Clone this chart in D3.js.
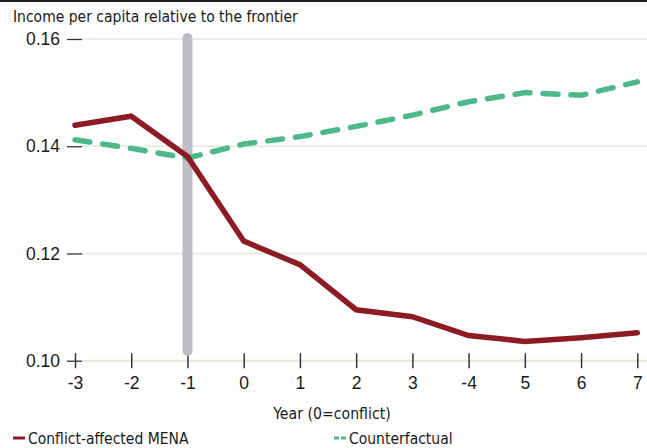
<!DOCTYPE html>
<html>
<head>
<meta charset="utf-8">
<script src="https://cdn.jsdelivr.net/npm/d3@7"></script>
<style>
  body { margin: 0; background: #fff; }
  svg { display: block; }
  .cond { font-family: "Liberation Sans Narrow", "DejaVu Sans Condensed", "Roboto", sans-serif; fill: #1a1a1a; }
  .num { font-family: "Liberation Sans", Arial, sans-serif; fill: #1a1a1a; }
</style>
</head>
<body>
<div id="chart"></div>
<script>
const WIDTH = 647;
const HEIGHT = 448;

// year labels as printed on the chart (the "-4" is in the original)
const years = ["-3", "-2", "-1", "0", "1", "2", "3", "-4", "5", "6", "7"];
const menaValues = [0.1439, 0.1456, 0.1381, 0.1223, 0.1179, 0.1095, 0.1082, 0.1047, 0.1036, 0.1043, 0.1052];
const counterfactualValues = [0.1412, 0.1396, 0.1378, 0.1404, 0.1418, 0.1437, 0.1458, 0.1483, 0.1500, 0.1495, 0.1520];
const yTicks = [0.10, 0.12, 0.14, 0.16];
const conflictYear = "-1";

const RED = "#8c1b24";
const GREEN = "#4fb78c";
const GRID = "#e2e9da";

const svg = d3.select("#chart")
  .append("svg")
  .attr("width", WIDTH)
  .attr("height", HEIGHT);

const x = d3.scalePoint()
  .domain(years)
  .range([75, 637.3]);

const y = d3.scaleLinear()
  .domain([0.10, 0.16])
  .range([360.7, 39]);

// top rule
svg.append("line")
  .attr("x1", 0).attr("x2", WIDTH)
  .attr("y1", 1).attr("y2", 1)
  .attr("stroke", "#222")
  .attr("stroke-width", 2);

// title
svg.append("text")
  .attr("class", "cond")
  .attr("x", 13)
  .attr("y", 22)
  .attr("font-size", 15.5)
  .text("Income per capita relative to the frontier");

// gridlines
svg.append("g")
  .selectAll("line")
  .data(yTicks)
  .enter()
  .append("line")
  .attr("x1", 82).attr("x2", WIDTH)
  .attr("y1", d => y(d)).attr("y2", d => y(d))
  .attr("stroke", GRID)
  .attr("stroke-width", d => d === 0.10 ? 2 : 1.5);

// y axis: dashes + labels
const yAxis = d3.axisLeft(y)
  .tickValues(yTicks)
  .tickFormat(d3.format(".2f"))
  .tickSize(15)
  .tickPadding(7);

const yg = svg.append("g")
  .attr("transform", "translate(82,0)")
  .call(yAxis);
yg.select(".domain").remove();
yg.selectAll(".tick line").attr("stroke", "#333").attr("stroke-width", 1.3);
yg.selectAll(".tick text")
  .attr("class", "num")
  .attr("font-size", 17.5)
  .attr("font-family", null)
  .attr("fill", "#1a1a1a");

// x axis: ticks crossing the baseline
const xAxis = d3.axisBottom(x)
  .tickSizeInner(8)
  .tickSizeOuter(0)
  .tickPadding(8);

const xg = svg.append("g")
  .attr("transform", `translate(0,${y(0.10)})`)
  .call(xAxis);
xg.select(".domain").remove();
xg.selectAll(".tick line")
  .attr("y1", -7.5)
  .attr("y2", 7.5)
  .attr("stroke", "#333")
  .attr("stroke-width", 1.5);
xg.selectAll(".tick text")
  .attr("class", "num")
  .attr("font-size", 17.5)
  .attr("font-family", null)
  .attr("fill", "#1a1a1a");

// x axis title
svg.append("text")
  .attr("class", "cond")
  .attr("x", 332)
  .attr("y", 419)
  .attr("text-anchor", "middle")
  .attr("font-size", 15.7)
  .text("Year (0=conflict)");

// conflict marker bar
svg.append("line")
  .attr("x1", x(conflictYear)).attr("x2", x(conflictYear))
  .attr("y1", y(0.16) - 1)
  .attr("y2", y(0.10) - 10)
  .attr("stroke", "#bdbec2")
  .attr("stroke-width", 10)
  .attr("stroke-linecap", "round");

const line = d3.line()
  .x((d, i) => x(years[i]))
  .y(d => y(d));

svg.append("path")
  .datum(counterfactualValues)
  .attr("d", line)
  .attr("fill", "none")
  .attr("stroke", GREEN)
  .attr("stroke-width", 5.5)
  .attr("stroke-dasharray", "15,13")
  .attr("stroke-linecap", "round")
  .attr("stroke-linejoin", "round");

svg.append("path")
  .datum(menaValues)
  .attr("d", line)
  .attr("fill", "none")
  .attr("stroke", RED)
  .attr("stroke-width", 5.5)
  .attr("stroke-linecap", "round")
  .attr("stroke-linejoin", "miter");

// legend
const legendItems = [
  { label: "Conflict-affected MENA", color: RED, dash: null, x: 13 },
  { label: "Counterfactual", color: GREEN, dash: "5,2", x: 334 }
];

const legend = svg.append("g")
  .selectAll("g")
  .data(legendItems)
  .enter()
  .append("g")
  .attr("transform", d => `translate(${d.x},438)`);

legend.append("line")
  .attr("x1", 0).attr("x2", 12)
  .attr("y1", 0).attr("y2", 0)
  .attr("stroke", d => d.color)
  .attr("stroke-width", 3)
  .attr("stroke-dasharray", d => d.dash);

legend.append("text")
  .attr("class", "cond")
  .attr("x", 15)
  .attr("y", 6)
  .attr("font-size", 15.5)
  .text(d => d.label);
</script>
</body>
</html>
